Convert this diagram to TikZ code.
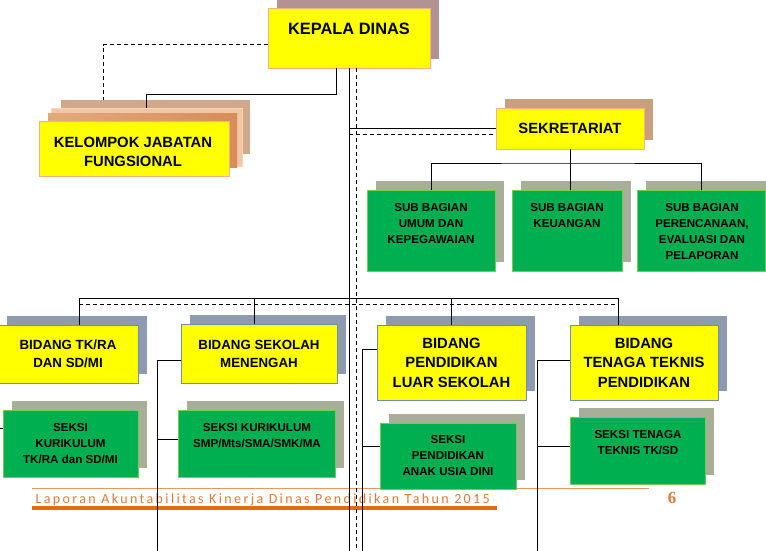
\documentclass[tikz,border=0pt]{standalone}
\usepackage{fontspec}
\setmainfont{Liberation Sans}
\newfontfamily\footfont[LetterSpace=17]{Carlito}
\newfontfamily\pagefont{Liberation Serif}
\usetikzlibrary{shadows}
\definecolor{kng}{RGB}{255,255,0}
\definecolor{hjo}{RGB}{0,176,80}
\definecolor{hjotepi}{RGB}{120,200,90}
\definecolor{orgtepi}{RGB}{244,177,131}
\definecolor{birutepi}{RGB}{110,140,190}
\definecolor{bkadis}{RGB}{179,146,146}
\definecolor{bsekr}{RGB}{201,160,126}
\definecolor{bhijau}{RGB}{168,175,152}
\definecolor{bbiru}{RGB}{141,154,175}
\definecolor{lapis1}{RGB}{209,168,138}
\definecolor{lapis2}{RGB}{242,197,165}
\definecolor{lapis2tepi}{RGB}{251,213,184}
\definecolor{lapis3a}{RGB}{226,170,124}
\definecolor{lapis3b}{RGB}{214,142,88}
\definecolor{jingga}{RGB}{228,108,10}
\definecolor{jinggatulis}{RGB}{226,122,55}
\definecolor{jinggamuda}{RGB}{236,150,95}
\begin{document}
\begin{tikzpicture}[x=1pt,y=-1pt,
    kotak/.style 2 args={minimum width=#1pt, minimum height=#2pt, inner sep=0pt, line width=0.8pt},
    kotakkuning/.style={fill=kng, draw=orgtepi},
    kotakbiru/.style={fill=kng, draw=birutepi},
    kotakhijau/.style={fill=hjo, draw=hjotepi},
    bayang/.style={general shadow={fill=#1, shadow xshift=9pt, shadow yshift=9pt}},
    besar/.style={font=\fontsize{16.4}{20}\selectfont\bfseries},
    sedang/.style={font=\fontsize{14.8}{19.5}\selectfont\bfseries, align=center},
    kecil/.style={font=\fontsize{13.3}{18}\selectfont\bfseries, align=center},
    mini/.style={font=\fontsize{11.6}{16}\selectfont\bfseries, align=center},
    garis/.style={line width=1pt},
    putus/.style={dash pattern=on 4pt off 3pt}]
    \useasboundingbox (0,0) rectangle (766,551);
    \fill[white] (0,0) rectangle (766,551);

    % kepala dinas dan kelompok fungsional
    \node[kotak={162}{60}, kotakkuning, bayang=bkadis] (kadis) at (349,38) {};
    \node[besar] (kadist) at (349,29) {KEPALA DINAS};
    \node[kotak={189}{54}, fill=lapis1] (kjf1) at (155.5,127) {};
    \node[kotak={191}{58}, fill=lapis2, draw=lapis2tepi] (kjf2) at (146.5,137) {};
    \node[kotak={189}{54}, left color=lapis3a, right color=lapis3b] (kjf3) at (142.5,140) {};
    \node[kotak={190}{55}, kotakkuning] (kjf) at (134,148.5) {};
    \node[sedang] (kjft) at (133,152) {KELOMPOK JABATAN\\FUNGSIONAL};

    % sekretariat
    \node[kotak={148}{41}, kotakkuning, bayang=bsekr, sedang] (sekr) at (570,128.5) {SEKRETARIAT};
    \node[kotak={128}{81}, kotakhijau, bayang=bhijau] (sub1) at (431,230.5) {};
    \node[kotak={110}{81}, kotakhijau, bayang=bhijau] (sub2) at (567,230.5) {};
    \node[kotak={128}{81}, kotakhijau, bayang=bhijau] (sub3) at (701,230.5) {};
    \node[mini] (sub1t) at (431,224) {SUB BAGIAN\\UMUM DAN\\KEPEGAWAIAN};
    \node[mini] (sub2t) at (567,216) {SUB BAGIAN\\KEUANGAN};
    \node[mini] (sub3t) at (702,232) {SUB BAGIAN\\PERENCANAAN,\\EVALUASI DAN\\PELAPORAN};

    % kaki halaman
    \draw[jinggamuda, line width=1pt] (32,488.5) -- (649,488.5);
    \node[font=\footfont\fontsize{14}{16}\selectfont, text=jinggatulis, anchor=base west] (kaki) at (32,503)
        {Laporan Akuntabilitas Kinerja Dinas Pendidikan Tahun 2015};
    \draw[jingga, line width=3.5pt] (32,508) -- (497,508);
    \node[font=\pagefont\bfseries\fontsize{17}{20}\selectfont, text=jinggatulis] (hal) at (672,498) {6};

    % bidang
    \node[kotak={140}{58}, kotakbiru, bayang=bbiru, kecil] (bid1) at (68,354) {BIDANG TK/RA\\DAN SD/MI};
    \node[kotak={156}{59}, kotakbiru, bayang=bbiru, kecil] (bid2) at (259,353.5) {BIDANG SEKOLAH\\MENENGAH};
    \node[kotak={149}{75}, kotakbiru, bayang=bbiru, sedang] (bid3) at (451.5,362.5) {BIDANG\\PENDIDIKAN\\LUAR SEKOLAH};
    \node[kotak={148}{75}, kotakbiru, bayang=bbiru, sedang] (bid4) at (644,362.5) {BIDANG\\TENAGA TEKNIS\\PENDIDIKAN};

    % seksi
    \node[kotak={135}{67}, kotakhijau, bayang=bhijau, mini] (sk1) at (70.5,443.5) {SEKSI\\KURIKULUM\\TK/RA dan SD/MI};
    \node[kotak={157}{67}, kotakhijau, bayang=bhijau] (sk2) at (256.5,443.5) {};
    \node[mini] (sk2t) at (257,436) {SEKSI KURIKULUM\\SMP/Mts/SMA/SMK/MA};
    \node[kotak={136}{66}, kotakhijau, bayang=bhijau, mini] (sk3) at (448,456) {SEKSI\\PENDIDIKAN\\ANAK USIA DINI};
    \node[kotak={135}{67}, kotakhijau, bayang=bhijau] (sk4) at (637.5,450.5) {};
    \node[mini] (sk4t) at (638,442.5) {SEKSI TENAGA\\TEKNIS TK/SD};

    % garis komando
    \coordinate (bawah) at (0,551);
    \coordinate (jalur) at (0,298);
    \coordinate (jalurp) at (0,304);
    \draw[garis] (kadis.south) -- (kadis.south |- bawah);
    \draw[garis,putus] ([xshift=7pt]kadis.south) -- ([xshift=7pt]kadis.south |- bawah);
    \draw[garis,putus] ([yshift=-7pt]kadis.west) -| ([xshift=-52.5pt]kjf1.north);
    \draw[garis] ([xshift=-13pt]kadis.south) |- ([yshift=13pt]kjf2.north) -- (kjf2.north);
    \draw[garis] (kadis.south |- sekr.west) -- (sekr.west);
    \draw[garis,putus] ([yshift=-5.5pt]kadis.south |- sekr.west) -- ([yshift=-5.5pt]sekr.west);
    \draw[garis] (sekr.south) -- (sekr.south |- sub2.north);
    \draw[garis] (sub1.north) |- (sekr.south |- 0,163) -| (sub3.north);

    \coordinate (t1) at ([xshift=11pt]bid1.north);
    \coordinate (t2) at ([xshift=-5pt]bid2.north);
    \coordinate (t4) at ([xshift=-26pt]bid4.north);
    \draw[garis] (t1) |- (t4 |- jalur) -- (t4);
    \draw[garis] (t2) -- (t2 |- jalur);
    \draw[garis] (bid3.north) -- (bid3.north |- jalur);
    \draw[garis,putus] (t1 |- jalurp) -- (t4 |- jalurp);

    \draw[garis] ([yshift=15.5pt]sk1.west) -- ++(-3,0);
    \draw[garis] ([yshift=-6.5pt]bid2.west) -| ([xshift=-20pt]sk2.west |- bawah);
    \draw[garis] ([yshift=4.5pt]sk2.west) -- ++(-20,0);
    \draw[garis] ([yshift=13.5pt]bid3.west) -| ([xshift=-17pt]sk3.west |- bawah);
    \draw[garis] ([yshift=10pt]sk3.west) -- ++(-17,0);
    \draw[garis] ([yshift=2.5pt]bid4.west) -| ([xshift=-32pt]sk4.west |- bawah);
    \draw[garis] ([yshift=4.5pt]sk4.west) -- ++(-32,0);
\end{tikzpicture}
\end{document}
